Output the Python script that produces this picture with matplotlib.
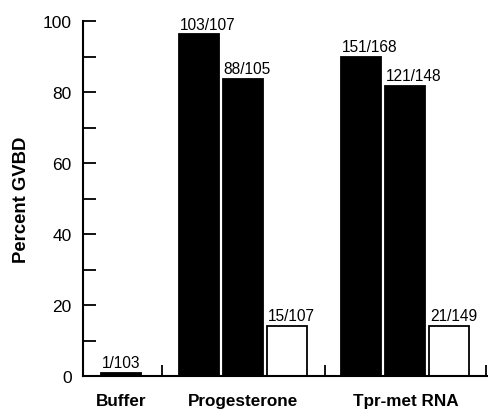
import matplotlib
matplotlib.use("Agg")
import matplotlib.pyplot as plt
from matplotlib.ticker import MultipleLocator, FixedLocator, NullFormatter

plt.rcParams['font.family'] = ['Liberation Sans', 'DejaVu Sans']

categories = ["Buffer", "Progesterone", "Tpr-met RNA"]
# per bar: group index, numerator, denominator, fill
bar_group = [0, 1, 1, 1, 2, 2, 2]
numerators = [1, 103, 88, 15, 151, 121, 21]
denominators = [103, 107, 105, 107, 168, 148, 149]
fills = ["black", "black", "black", "white", "black", "black", "white"]
bar_x = [0.86, 2.64, 3.64, 4.64, 6.34, 7.34, 8.34]
group_centers = [0.86, 3.64, 7.34]
separators = [1.8, 5.5, 9.18]
yticks = [0, 20, 40, 60, 80, 100]
bar_w = 0.91

values = [100.0 * n / d for n, d in zip(numerators, denominators)]
labels = [f"{n}/{d}" for n, d in zip(numerators, denominators)]

fig = plt.figure(figsize=(4.88, 4.10), dpi=100)
ax = fig.add_axes([0.170, 0.0805, 0.828, 0.8655])

ax.bar(bar_x, values, width=bar_w, color=fills, edgecolor="black", linewidth=1.3)
for x, v, lab in zip(bar_x, values, labels):
    ax.text(x - bar_w / 2 + 0.02, v + 0.8, lab, ha="left", va="bottom", fontsize=11.2)

ax.set_xlim(0, 9.2)
ax.set_ylim(0, 100)
ax.spines["top"].set_visible(False)
ax.spines["right"].set_visible(False)
ax.spines["left"].set_linewidth(1.5)
ax.spines["bottom"].set_linewidth(1.5)

ax.yaxis.set_major_locator(FixedLocator(yticks))
ax.yaxis.set_minor_locator(MultipleLocator(10))
ax.tick_params(axis="y", which="both", direction="in", length=9, width=1.3,
               labelsize=12.5, pad=8)
ax.xaxis.set_major_locator(FixedLocator(separators))
ax.xaxis.set_major_formatter(NullFormatter())
ax.tick_params(axis="x", which="both", direction="in", length=8, width=1.3)

for c, x in zip(categories, group_centers):
    ax.text(x, -6.8, c, ha="center", va="center", fontsize=12.3, fontweight="bold")

ax.set_ylabel("Percent GVBD", fontsize=13.3, fontweight="bold", labelpad=9)

fig.savefig("out.png", dpi=100)
